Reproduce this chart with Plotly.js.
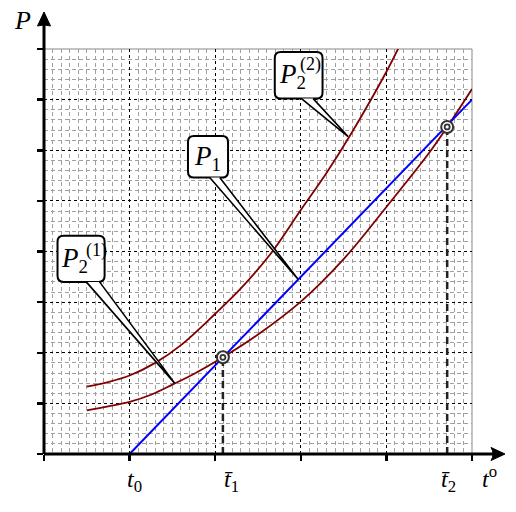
<!DOCTYPE html>
<html>
<head>
<meta charset="utf-8">
<script src="https://cdn.plot.ly/plotly-3.0.1.min.js"></script>
<style>html,body{margin:0;padding:0;background:#fff;}#chart{width:516px;height:512px;}</style>
</head>
<body>
<div id="chart"></div>
<script>
// ---- data ----
const upperX = [0.5, 0.75, 1.0, 1.3, 1.6, 2.0, 2.3, 2.65, 3.0, 3.3, 3.6, 4.0, 4.15];
const upperY = [1.33, 1.42, 1.55, 1.80, 2.15, 2.77, 3.27, 3.96, 4.82, 5.55, 6.36, 7.55, 8.05];
const lowerX = [0.5, 0.75, 1.0, 1.25, 1.5, 1.75, 2.09, 2.5, 3.0, 3.5, 4.0, 4.5, 4.71, 5.0];
const lowerY = [0.86, 0.94, 1.03, 1.17, 1.37, 1.58, 1.91, 2.36, 3.01, 3.85, 4.88, 5.95, 6.46, 7.21];
const lineX = [1, 5];
const lineY = [0, 7];
const crossX = [2.09, 4.71];
const crossY = [1.91, 6.46];
const tickVals = [1, 2.09, 4.71];
const tickLabels = ['<i>t</i><sub>0</sub>', '<i>t\u0304</i><sub>1</sub>', '<i>t\u0304</i><sub>2</sub>'];
const labelP1 = '<i>P</i><sub>1</sub>';
const labelP2 = '<i>P</i><sub>2</sub>';
const supP21 = '(1)';
const supP22 = '(2)';

// ---- styling / layout helpers ----
const SERIF = 'Liberation Serif';
const RED = '#800000';
const tickShift = [5, 9, 1];

const traces = [
  {x: upperX, y: upperY, mode: 'lines', line: {color: RED, width: 1.8, shape: 'spline'}, hoverinfo: 'skip'},
  {x: lowerX, y: lowerY, mode: 'lines', line: {color: RED, width: 1.8, shape: 'spline'}, hoverinfo: 'skip'},
  {x: lineX, y: lineY, mode: 'lines', line: {color: '#0000ff', width: 2}, hoverinfo: 'skip'}
];
crossX.forEach((cx, i) => {
  traces.push({x: [cx, cx], y: [0, crossY[i]], mode: 'lines',
    line: {color: '#222', width: 2.5, dash: '7px,4px'}, hoverinfo: 'skip'});
});
traces.push({x: crossX, y: crossY, mode: 'markers', cliponaxis: false,
  marker: {symbol: 'circle', size: 12, color: '#ffffff', line: {color: '#333', width: 2}}, hoverinfo: 'skip'});
traces.push({x: crossX, y: crossY, mode: 'markers', cliponaxis: false,
  marker: {symbol: 'circle-open', size: 5, color: '#333', line: {color: '#333', width: 1.8}}, hoverinfo: 'skip'});

function rrect(x0, x1, y0, y1, rx, ry) {
  return `M${x0+rx},${y0} L${x1-rx},${y0} Q${x1},${y0} ${x1},${y0+ry} L${x1},${y1-ry} Q${x1},${y1} ${x1-rx},${y1} ` +
         `L${x0+rx},${y1} Q${x0},${y1} ${x0},${y1-ry} L${x0},${y0+ry} Q${x0},${y0} ${x0+rx},${y0} Z`;
}
// callout boxes: [x0,x1,y0,y1], wedge base [xl,xr], tip [x,y]
const callouts = [
  {box: [0.158, 0.708, 3.40, 4.31], base: [0.494, 0.649], tip: [1.526, 1.40]},
  {box: [1.682, 2.150, 5.46, 6.28], base: [1.936, 2.053], tip: [2.968, 3.45]},
  {box: [2.696, 3.254, 7.02, 7.94], base: [3.008, 3.144], tip: [3.553, 6.27]}
];
const shapes = [];
shapes.push({type: 'rect', xref: 'paper', yref: 'paper', x0: 0, x1: 1, y0: 0, y1: 1,
  line: {color: '#888', width: 1}, layer: 'below'});
callouts.forEach(c => {
  shapes.push({type: 'path', xref: 'x', yref: 'y', path: rrect(c.box[0], c.box[1], c.box[2], c.box[3], 0.07, 0.12),
    fillcolor: '#fff', line: {color: '#000', width: 2}});
  const yb = c.box[2];
  shapes.push({type: 'path', xref: 'x', yref: 'y',
    path: `M${c.base[0]},${yb} L${c.tip[0]},${c.tip[1]} L${c.base[1]},${yb}`,
    fillcolor: '#fff', line: {color: '#000', width: 1.6}});
});
shapes.push({type: 'line', xref: 'paper', yref: 'paper', x0: 0, x1: 1.06, y0: 0, y1: 0, line: {color: '#000', width: 3}});
shapes.push({type: 'line', xref: 'paper', yref: 'paper', x0: 0, x1: 0, y0: 0, y1: 1.07, line: {color: '#000', width: 3}});
shapes.push({type: 'path', xref: 'paper', yref: 'paper',
  path: 'M0,1.0914 L-0.0152,1.0568 Q0,1.062 0.0152,1.0568 Z', fillcolor: '#000', line: {color: '#000', width: 1}});
shapes.push({type: 'path', xref: 'paper', yref: 'paper',
  path: 'M1.0771,0 L1.0444,0.0161 Q1.054,0 1.0444,-0.0161 Z', fillcolor: '#000', line: {color: '#000', width: 1}});

const annotations = [];
tickVals.forEach((v, i) => {
  annotations.push({x: v, y: -0.067, xref: 'x', yref: 'paper', text: tickLabels[i], showarrow: false,
    xanchor: 'center', yanchor: 'middle', xshift: tickShift[i], font: {family: SERIF, size: 24, color: '#000'}});
});
annotations.push({x: 1.040, y: -0.057, xref: 'paper', yref: 'paper', text: '<i>t</i><sup>o</sup>', showarrow: false,
  xanchor: 'center', yanchor: 'middle', font: {family: SERIF, size: 24, color: '#000'}});
annotations.push({x: -0.050, y: 1.070, xref: 'paper', yref: 'paper', text: '<i>P</i>', showarrow: false,
  xanchor: 'center', yanchor: 'middle', font: {family: SERIF, size: 26, color: '#000'}});
annotations.push({x: 1.915, y: 5.85, xref: 'x', yref: 'y', text: labelP1, showarrow: false,
  xanchor: 'center', yanchor: 'middle', font: {family: SERIF, size: 27, color: '#000'}});
annotations.push({x: 0.181, y: 3.83, xref: 'x', yref: 'y', text: labelP2, showarrow: false,
  xanchor: 'left', yanchor: 'middle', font: {family: SERIF, size: 27, color: '#000'}});
annotations.push({x: 0.462, y: 4.01, xref: 'x', yref: 'y', text: supP21, showarrow: false,
  xanchor: 'left', yanchor: 'middle', font: {family: SERIF, size: 18, color: '#000'}});
annotations.push({x: 2.719, y: 7.46, xref: 'x', yref: 'y', text: labelP2, showarrow: false,
  xanchor: 'left', yanchor: 'middle', font: {family: SERIF, size: 27, color: '#000'}});
annotations.push({x: 2.965, y: 7.70, xref: 'x', yref: 'y', text: supP22, showarrow: false,
  xanchor: 'left', yanchor: 'middle', font: {family: SERIF, size: 18, color: '#000'}});

const layout = {
  width: 516, height: 512,
  margin: {l: 44, r: 44, t: 49, b: 58, pad: 0},
  paper_bgcolor: '#fff', plot_bgcolor: '#fff',
  showlegend: false,
  font: {family: SERIF, color: '#000'},
  xaxis: {range: [0, 5], dtick: 1, tick0: 0, showticklabels: false, zeroline: false, showline: false,
    ticks: 'outside', ticklen: 6, tickwidth: 2.5, tickcolor: '#000',
    showgrid: true, gridcolor: '#000', gridwidth: 1, griddash: '3px,3px',
    minor: {dtick: 0.1, showgrid: true, gridcolor: '#a0a0a0', gridwidth: 1, griddash: '4px,3px', ticks: ''},
    fixedrange: true},
  yaxis: {range: [0, 8], dtick: 1, tick0: 0, showticklabels: false, zeroline: false, showline: false,
    ticks: 'outside', ticklen: 6, tickwidth: 2.5, tickcolor: '#000',
    showgrid: true, gridcolor: '#000', gridwidth: 1, griddash: '3px,3px',
    minor: {dtick: 0.2, showgrid: true, gridcolor: '#a0a0a0', gridwidth: 1, griddash: '4px,3px', ticks: ''},
    fixedrange: true},
  shapes: shapes,
  annotations: annotations
};
Plotly.newPlot('chart', traces, layout, {displayModeBar: false, staticPlot: true});
</script>
</body>
</html>
